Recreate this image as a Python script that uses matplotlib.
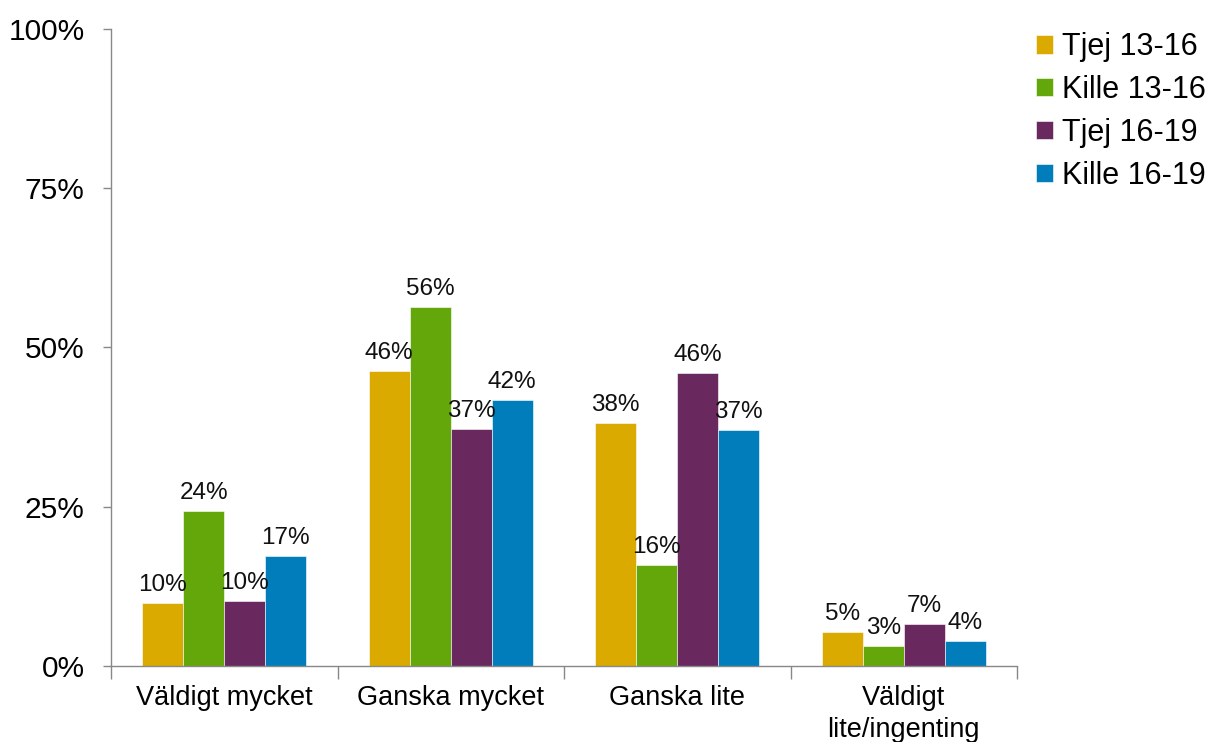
import matplotlib
matplotlib.use("Agg")
import matplotlib.pyplot as plt
import numpy as np
from matplotlib.ticker import FixedLocator, PercentFormatter

plt.rcParams['font.family'] = ['Liberation Sans', 'DejaVu Sans']

categories = ["Väldigt mycket", "Ganska mycket", "Ganska lite", "Väldigt\nlite/ingenting"]
series_names = ["Tjej 13-16", "Kille 13-16", "Tjej 16-19", "Kille 16-19"]
tjej_13_16 = [9.9, 46.3, 38.1, 5.3]
kille_13_16 = [24.3, 56.4, 15.9, 3.1]
tjej_16_19 = [10.2, 37.2, 46.0, 6.6]
kille_16_19 = [17.3, 41.8, 37.0, 3.9]
colors = ["#DAAA00", "#64A70B", "#69295F", "#007DBA"]

series = [tjej_13_16, kille_13_16, tjej_16_19, kille_16_19]

fig = plt.figure(figsize=(12.07, 7.42), dpi=100)
ax = fig.add_axes([0.092, 0.1024, 0.7506, 0.8586])

x = np.arange(len(categories))
w = 0.181
for i, (name, vals, c) in enumerate(zip(series_names, series, colors)):
    pos = x + (i - 1.5) * w
    ax.bar(pos, vals, w, color=c, label=name, edgecolor='white', linewidth=0.4)
    for xp, v in zip(pos, vals):
        ax.annotate(f"{round(v)}%", (xp, v), xytext=(0, 5), textcoords='offset points',
                    ha='center', va='bottom', fontsize=17.5, color='#111111')

ax.set_xlim(-0.5, 3.5)
ax.set_ylim(0, 100)
ax.yaxis.set_major_locator(FixedLocator([0, 25, 50, 75, 100]))
ax.yaxis.set_major_formatter(PercentFormatter(decimals=0))
ax.tick_params(axis='y', labelsize=21.5, length=6, color='#888888', width=1, pad=13)

ax.set_xticks(np.arange(-0.5, 4, 1))
ax.set_xticklabels([])
ax.set_xticks(x, minor=True)
ax.set_xticklabels(categories, minor=True, fontsize=19.5, linespacing=1.3)
ax.tick_params(axis='x', which='major', length=9, color='#888888', width=1)
ax.tick_params(axis='x', which='minor', length=0, pad=14)

for s in ['top', 'right']:
    ax.spines[s].set_visible(False)
for s in ['left', 'bottom']:
    ax.spines[s].set_color('#888888')
    ax.spines[s].set_linewidth(1)

leg = fig.legend(loc='upper left', bbox_to_anchor=(0.848, 0.973), frameon=False,
                 fontsize=22, handlelength=0.55, handleheight=0.55, handletextpad=0.3,
                 labelspacing=0.42, borderaxespad=0)

fig.savefig("out.png", dpi=100)
